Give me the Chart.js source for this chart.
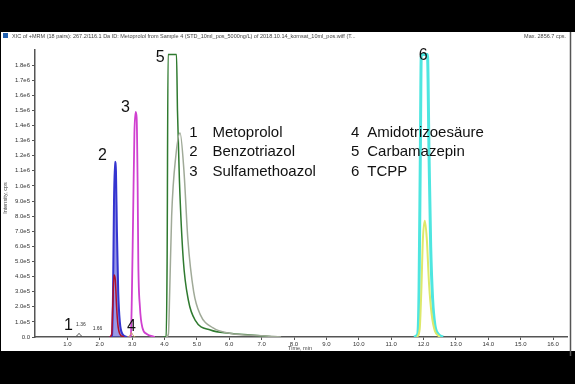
<!DOCTYPE html>
<html>
<head>
<meta charset="utf-8">
<script src="https://cdn.jsdelivr.net/npm/chart.js@4.4.1/dist/chart.umd.min.js"></script>
<style>
  html,body{margin:0;padding:0;background:#000;}
  #c{display:block;}
</style>
</head>
<body>
<canvas id="c" width="575" height="384" style="width:575px;height:384px"></canvas>
<script>
// ---- Data (time in min, intensity in cps) ----
const metoT   = [1.20, 1.30, 1.36, 1.42, 1.52];
const metoI   = [0, 8000, 24000, 8000, 0];

const benzoT  = [2.30, 2.38, 2.41, 2.44, 2.47, 2.50, 2.53, 2.57, 2.62, 2.70, 2.85];
const benzoI  = [0, 10000, 300000, 900000, 1160000, 1100000, 700000, 300000, 100000, 20000, 0];

const redT    = [2.30, 2.37, 2.40, 2.44, 2.48, 2.52, 2.56, 2.62, 2.75];
const redI    = [0, 20000, 200000, 410000, 380000, 200000, 80000, 20000, 0];

const sulfaT  = [2.90, 2.96, 2.99, 3.03, 3.07, 3.11, 3.14, 3.17, 3.19, 3.24, 3.32, 3.45, 3.70];
const sulfaI  = [0, 10000, 250000, 800000, 1350000, 1490000, 1450000, 1000000, 500000, 200000, 60000, 20000, 0];

const amidoT  = [2.85, 2.93, 2.98, 3.03, 3.10];
const amidoI  = [0, 10000, 30000, 10000, 0];

const carbaT  = [3.95, 4.05, 4.08, 4.11, 4.20, 4.30, 4.37, 4.40, 4.46, 4.58, 4.74, 4.95, 5.42, 6.00, 6.65, 7.40];
const carbaI  = [0, 2000, 500000, 1870000, 1870000, 1870000, 1870000, 1500000, 1040000, 510000, 240000, 110000, 46000, 25000, 13000, 0];

const carba2T = [4.05, 4.12, 4.16, 4.22, 4.35, 4.48, 4.60, 4.72, 4.90, 5.10, 5.50, 6.00, 7.00, 7.60];
const carba2I = [0, 20000, 300000, 800000, 1200000, 1350000, 1100000, 650000, 300000, 150000, 60000, 25000, 8000, 0];

const tcppT   = [11.70, 11.82, 11.86, 11.90, 11.93, 12.00, 12.08, 12.12, 12.17, 12.22, 12.28, 12.35, 12.45, 12.60];
const tcppI   = [0, 20000, 300000, 1200000, 1870000, 1870000, 1870000, 1870000, 1200000, 600000, 250000, 80000, 20000, 0];

const tcpp2T  = [11.80, 11.88, 11.93, 11.98, 12.04, 12.10, 12.17, 12.25, 12.35, 12.50];
const tcpp2I  = [0, 50000, 300000, 650000, 770000, 650000, 350000, 150000, 40000, 0];

const xTickValues = [1,2,3,4,5,6,7,8,9,10,11,12,13,14,15,16];
const yTickValues = [0,100000,200000,300000,400000,500000,600000,700000,800000,900000,
                     1000000,1100000,1200000,1300000,1400000,1500000,1600000,1700000,1800000];

const peakLabels = [
  {text:'1', t:1.03, v:73000},
  {text:'2', t:2.08, v:1198000},
  {text:'3', t:2.79, v:1522000},
  {text:'4', t:2.98, v:66000},
  {text:'5', t:3.87, v:1853000},
  {text:'6', t:11.99, v:1866000}
];
const rtLabels = [
  {text:'1.36', t:1.42, v:79000},
  {text:'1.66', t:1.93, v:53000}
];
const legendNums  = ['1','2','3','4','5','6'];
const legendNames = ['Metoprolol','Benzotriazol','Sulfamethoazol','Amidotrizoesäure','Carbamazepin','TCPP'];

function pts(ts, is){ return ts.map((t,i)=>({x:t, y:is[i]})); }

const frame = {
  id:'frame',
  beforeDraw(chart){
    const c = chart.ctx;
    c.save();
    c.fillStyle = '#000'; c.fillRect(0,0,575,384);
    c.fillStyle = '#fff'; c.fillRect(1,32,574,319);
    c.strokeStyle = '#555'; c.lineWidth = 1.5;
    c.beginPath(); c.moveTo(570.5,32); c.lineTo(570.5,356); c.stroke();
    // title bar
    c.fillStyle = '#2060b0'; c.fillRect(3,33,5,5);
    c.fillStyle = '#444'; c.font = '5.5px Arial'; c.textBaseline = 'middle';
    c.fillText('XIC of +MRM (18 pairs): 267.2/116.1 Da ID: Metoprolol from Sample 4 (STD_10ml_pos_5000ng/L) of 2018.10.14_komsat_10ml_pos.wiff (T...', 12, 36);
    c.textAlign = 'right';
    c.fillText('Max. 2856.7 cps.', 566, 36);
    // axis titles
    c.textAlign = 'center';
    c.fillText('Time, min', 300, 348);
    c.translate(5, 198); c.rotate(-Math.PI/2);
    c.fillText('Intensity, cps', 0, 0);
    c.restore();
  },
  afterDatasetsDraw(chart){
    const c = chart.ctx, xs = chart.scales.x, ys = chart.scales.y;
    c.save();
    c.fillStyle = '#111'; c.textBaseline = 'middle'; c.textAlign = 'center';
    c.font = '16px Arial';
    peakLabels.forEach(p=>c.fillText(p.text, xs.getPixelForValue(p.t), ys.getPixelForValue(p.v)));
    c.font = '5px Arial'; c.fillStyle = '#333';
    rtLabels.forEach(p=>c.fillText(p.text, xs.getPixelForValue(p.t), ys.getPixelForValue(p.v)));
    // compound list
    c.font = '15px Arial'; c.fillStyle = '#111';
    const rowV = [1350000, 1224000, 1092000];
    legendNums.forEach((n,i)=>{
      const col = Math.floor(i/3), row = i%3;
      const numT = col===0 ? 4.89 : 9.89;
      const nameT = col===0 ? 5.48 : 10.26;
      const y = ys.getPixelForValue(rowV[row]);
      c.textAlign = 'center';
      c.fillText(n, xs.getPixelForValue(numT), y);
      c.textAlign = 'left';
      c.fillText(legendNames[i], xs.getPixelForValue(nameT), y);
    });
    c.restore();
  }
};

function fmtY(v){
  if (v === 0) return '0.0';
  const e = Math.floor(Math.log10(v) + 1e-9);
  return (v/Math.pow(10,e)).toFixed(1) + 'e' + e;
}

const tickFont = {family:'Arial', size:6};
new Chart(document.getElementById('c'), {
  type:'line',
  data:{datasets:[
    {data:pts(tcpp2T,tcpp2I), borderColor:'#dde86a', borderWidth:2},
    {data:pts(tcppT,tcppI), borderColor:'#4ee6e0', borderWidth:3},
    {data:pts(carba2T,carba2I), borderColor:'#a0aa98', borderWidth:1.5},
    {data:pts(carbaT,carbaI), borderColor:'#2f7a2f', borderWidth:1.5},
    {data:pts(amidoT,amidoI), borderColor:'#c8a060', borderWidth:1},
    {data:pts(redT,redI), borderColor:'#b0102a', borderWidth:1.5},
    {data:pts(benzoT,benzoI), borderColor:'#3535d0', borderWidth:2, fill:'origin', backgroundColor:'rgba(70,70,210,0.55)'},
    {data:pts(sulfaT,sulfaI), borderColor:'#d040d0', borderWidth:1.8},
    {data:pts(metoT,metoI), borderColor:'#555', borderWidth:1}
  ]},
  options:{
    responsive:false, animation:false, devicePixelRatio:1,
    layout:{padding:{left:0, right:8, top:50, bottom:0}},
    plugins:{legend:{display:false}, tooltip:{enabled:false}},
    elements:{point:{radius:0}, line:{cubicInterpolationMode:'monotone'}},
    scales:{
      x:{type:'linear', min:0, max:16.43,
         afterBuildTicks:s=>{ s.ticks = xTickValues.map(v=>({value:v})); },
         afterFit:s=>{ s.height = 47; },
         ticks:{font:tickFont, color:'#333', maxRotation:0, autoSkip:false, padding:1, callback:v=>Number(v).toFixed(1)},
         grid:{display:true, drawOnChartArea:false, drawTicks:true, tickLength:3, color:'#555'},
         border:{display:true, color:'#555', width:1.5}},
      y:{type:'linear', min:0, max:1900000,
         afterBuildTicks:s=>{ s.ticks = yTickValues.map(v=>({value:v})); },
         afterFit:s=>{ s.width = 35; },
         ticks:{font:tickFont, color:'#333', autoSkip:false, padding:2, callback:v=>fmtY(v)},
         grid:{display:true, drawOnChartArea:false, drawTicks:true, tickLength:3, color:'#555'},
         border:{display:true, color:'#555', width:1.5}}
    }
  },
  plugins:[frame]
});
</script>
</body>
</html>
